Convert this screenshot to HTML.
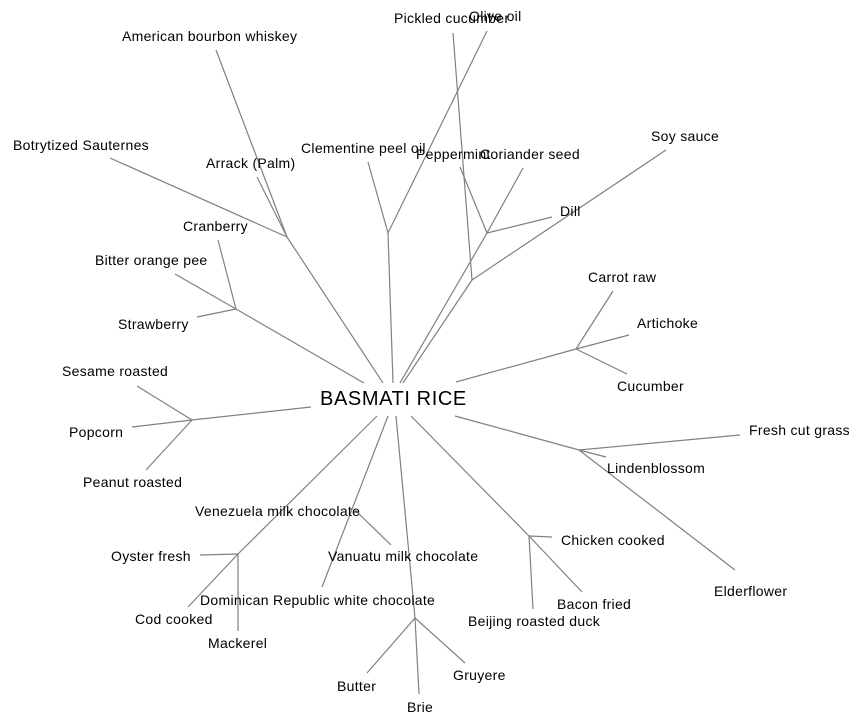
<!DOCTYPE html>
<html><head><meta charset="utf-8"><style>
html,body{margin:0;padding:0;background:#fff;}
svg{display:block;}
text{font-family:"Liberation Sans",Arial,sans-serif;font-size:14px;letter-spacing:0.3px;fill:#000;}
line{stroke:#808080;stroke-width:1.2;}
</style></head><body>
<svg width="864" height="726" viewBox="0 0 864 726" xmlns="http://www.w3.org/2000/svg">
<g>
<line x1="216" y1="50" x2="287" y2="237"/>
<line x1="110" y1="158" x2="287" y2="237"/>
<line x1="257" y1="177" x2="287" y2="237"/>
<line x1="287" y1="237" x2="383" y2="383"/>
<line x1="218" y1="240" x2="236" y2="309"/>
<line x1="175" y1="274" x2="236" y2="309"/>
<line x1="197" y1="317" x2="236" y2="309"/>
<line x1="236" y1="309" x2="364" y2="383"/>
<line x1="368" y1="162" x2="388" y2="233"/>
<line x1="487" y1="31" x2="388" y2="233"/>
<line x1="388" y1="233" x2="393" y2="383"/>
<line x1="453" y1="33" x2="472" y2="280"/>
<line x1="666" y1="150" x2="472" y2="280"/>
<line x1="472" y1="280" x2="403" y2="383"/>
<line x1="460" y1="167" x2="487" y2="233"/>
<line x1="523" y1="168" x2="487" y2="233"/>
<line x1="552" y1="217" x2="487" y2="233"/>
<line x1="487" y1="233" x2="400" y2="383"/>
<line x1="613" y1="291" x2="576" y2="349"/>
<line x1="629" y1="335" x2="576" y2="349"/>
<line x1="627" y1="374" x2="576" y2="349"/>
<line x1="576" y1="349" x2="456" y2="382"/>
<line x1="740" y1="435" x2="579" y2="450"/>
<line x1="606" y1="457" x2="579" y2="450"/>
<line x1="735" y1="570" x2="579" y2="450"/>
<line x1="579" y1="450" x2="455" y2="416"/>
<line x1="552" y1="537" x2="529" y2="536"/>
<line x1="582" y1="592" x2="529" y2="536"/>
<line x1="533" y1="609" x2="529" y2="536"/>
<line x1="529" y1="536" x2="411" y2="416"/>
<line x1="137" y1="386" x2="192" y2="420"/>
<line x1="132" y1="427" x2="192" y2="420"/>
<line x1="146" y1="470" x2="192" y2="420"/>
<line x1="192" y1="420" x2="311" y2="407"/>
<line x1="377" y1="416" x2="238" y2="554"/>
<line x1="200" y1="555" x2="238" y2="554"/>
<line x1="188" y1="607" x2="238" y2="554"/>
<line x1="238" y1="631" x2="238" y2="554"/>
<line x1="388" y1="416" x2="322" y2="587"/>
<line x1="355" y1="510" x2="391" y2="545"/>
<line x1="396" y1="416" x2="415" y2="618"/>
<line x1="367" y1="673" x2="415" y2="618"/>
<line x1="419" y1="694" x2="415" y2="618"/>
<line x1="465" y1="663" x2="415" y2="618"/>
</g>
<text x="320" y="405" style="font-size:20px;letter-spacing:0.6px">BASMATI RICE</text>
<text x="122" y="41">American bourbon whiskey</text>
<text x="13" y="150">Botrytized Sauternes</text>
<text x="206" y="168">Arrack (Palm)</text>
<text x="301" y="153">Clementine peel oil</text>
<text x="394" y="23">Pickled cucumber</text>
<text x="469" y="21">Olive oil</text>
<text x="416" y="159">Peppermint</text>
<text x="480" y="159">Coriander seed</text>
<text x="651" y="141">Soy sauce</text>
<text x="560" y="216">Dill</text>
<text x="183" y="231">Cranberry</text>
<text x="95" y="265">Bitter orange pee</text>
<text x="118" y="329">Strawberry</text>
<text x="588" y="282">Carrot raw</text>
<text x="637" y="328">Artichoke</text>
<text x="617" y="391">Cucumber</text>
<text x="62" y="376">Sesame roasted</text>
<text x="69" y="437">Popcorn</text>
<text x="83" y="487">Peanut roasted</text>
<text x="749" y="435">Fresh cut grass</text>
<text x="607" y="473">Lindenblossom</text>
<text x="714" y="596">Elderflower</text>
<text x="195" y="516">Venezuela milk chocolate</text>
<text x="328" y="561">Vanuatu milk chocolate</text>
<text x="111" y="561">Oyster fresh</text>
<text x="200" y="605">Dominican Republic white chocolate</text>
<text x="135" y="624">Cod cooked</text>
<text x="208" y="648">Mackerel</text>
<text x="561" y="545">Chicken cooked</text>
<text x="557" y="609">Bacon fried</text>
<text x="468" y="626">Beijing roasted duck</text>
<text x="337" y="691">Butter</text>
<text x="407" y="712">Brie</text>
<text x="453" y="680">Gruyere</text>
</svg>
</body></html>
